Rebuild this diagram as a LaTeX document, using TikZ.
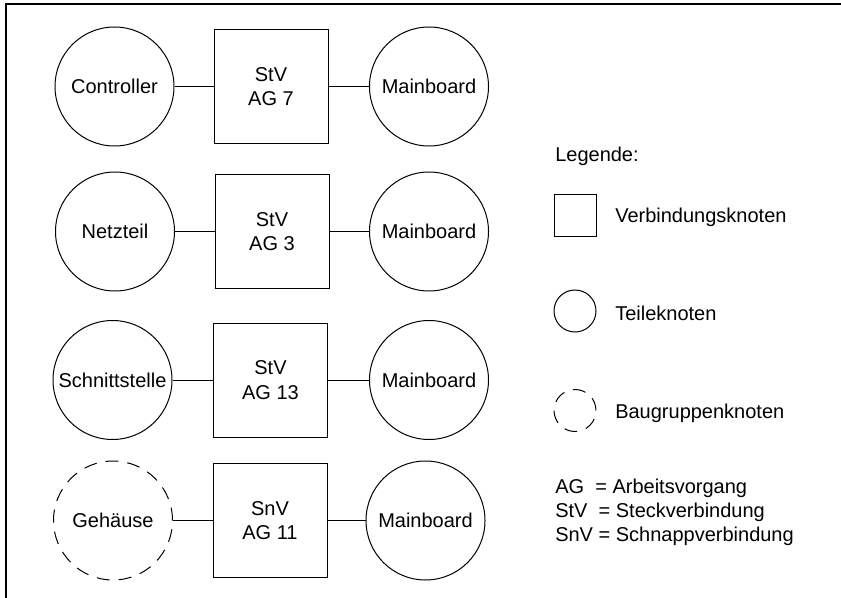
\documentclass[tikz,border=0pt]{standalone}
\usepackage{fontspec}
\setmainfont{Liberation Sans}
\begin{document}
\begin{tikzpicture}[x=0.75pt,y=-0.75pt,
  every node/.style={font=\fontsize{15}{18.2}\selectfont},
  thin line/.style={line width=0.75pt},
  part/.style={circle,draw,thin line,inner sep=0pt,minimum size=89.25pt},
  group/.style={part,dash pattern=on 9.75pt off 6.75pt},
  joint/.style={rectangle,draw,thin line,inner sep=0pt,minimum size=85.5pt,align=center},
  link/.style={thin line},
  keypart/.style={circle,draw,thin line,inner sep=0pt,minimum size=31.5pt},
  keygroup/.style={keypart,dash pattern=on 9.75pt off 6.75pt},
  keyjoint/.style={rectangle,draw,thin line,inner sep=0pt,minimum size=31.5pt},
  keytext/.style={anchor=base west,inner sep=0pt}]
\useasboundingbox (0,0) rectangle (841,598);

% frame (top and left edge)
\draw[line width=1.5pt] (841,4.3) -- (6,4.3) -- (6,598);

% row 1
\node[part]  (c1) at (114.5,86.5) {Controller};
\node[joint] (j1) at (271,86.5) {StV\\AG 7};
\node[part]  (m1) at (429,86.5) {Mainboard};
% row 2
\node[part]  (c2) at (115,231.5) {Netzteil};
\node[joint] (j2) at (272,231.5) {StV\\AG 3};
\node[part]  (m2) at (429,231.5) {Mainboard};
% row 3
\node[part]  (c3) at (112.5,380) {Schnittstelle};
\node[joint] (j3) at (270.5,380) {StV\\AG 13};
\node[part]  (m3) at (429,380) {Mainboard};
% row 4
\node[group] (c4) at (113,520.5) {Gehäuse};
\node[joint] (j4) at (270,520.5) {SnV\\AG 11};
\node[part]  (m4) at (425.5,520.5) {Mainboard};

\foreach \i in {1,2,3,4}{
  \draw[link] (c\i) -- (j\i);
  \draw[link] (j\i) -- (m\i);
}

% legend
\node[keytext]  (lg) at (555,161.7) {Legende:};
\node[keyjoint] (kj) at (575,216) {};
\node[keytext]  (kjt) at (615,222.7) {Verbindungsknoten};
\node[keypart]  (kp) at (575,311) {};
\node[keytext]  (kpt) at (615,320.7) {Teileknoten};
\node[keygroup] (kg) at (575,410.5) {};
\node[keytext]  (kgt) at (615,418.3) {Baugruppenknoten};

\node[keytext] (a1) at (555,493.3) {AG\ \ = Arbeitsvorgang};
\node[keytext] (a2) at (555,517.5) {StV\ \ = Steckverbindung};
\node[keytext] (a3) at (555,541.7) {SnV = Schnappverbindung};
\end{tikzpicture}
\end{document}
